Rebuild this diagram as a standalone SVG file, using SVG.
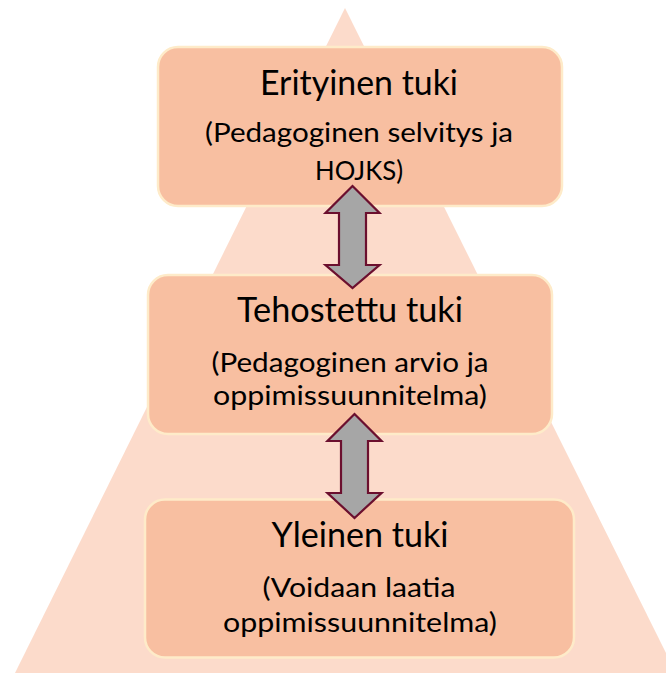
<svg xmlns="http://www.w3.org/2000/svg" width="666" height="673" viewBox="0 0 666 673">
<defs>
<style>
.box{fill:#F8BFA1;stroke:#FEEBC9;stroke-width:2.5}
.t{font-family:Lato,"Open Sans","Liberation Sans",sans-serif;fill:#000;text-anchor:middle}
.h{font-size:35px}
.s{font-size:27.5px}
.arr{fill:#A6A6A6;stroke:#6B0F2E;stroke-width:2.2;stroke-linejoin:miter}
</style>
</defs>
<rect width="666" height="673" fill="#fff"/>
<polygon points="345,8 15,673 676,673" fill="#FCDBCB"/>
<g id="node-erityinen">
<rect class="box" x="158" y="47" width="404" height="159" rx="20"/>
<text class="t h" x="359" y="95" textLength="198" lengthAdjust="spacingAndGlyphs">Erityinen tuki</text>
<text class="t s" x="359" y="142" textLength="308" lengthAdjust="spacingAndGlyphs">(Pedagoginen selvitys ja</text>
<text class="t s" x="359" y="180" textLength="88" lengthAdjust="spacingAndGlyphs">HOJKS)</text>
</g>
<g id="node-tehostettu">
<rect class="box" x="148" y="275" width="404" height="159" rx="20"/>
<text class="t h" x="350" y="322" textLength="226" lengthAdjust="spacingAndGlyphs">Tehostettu tuki</text>
<text class="t s" x="350" y="372" textLength="277" lengthAdjust="spacingAndGlyphs">(Pedagoginen arvio ja</text>
<text class="t s" x="350" y="405" textLength="274" lengthAdjust="spacingAndGlyphs">oppimissuunnitelma)</text>
</g>
<g id="node-yleinen">
<rect class="box" x="145" y="499.5" width="429" height="158" rx="20"/>
<text class="t h" x="360" y="547" textLength="177" lengthAdjust="spacingAndGlyphs">Yleinen tuki</text>
<text class="t s" x="359" y="597" textLength="193" lengthAdjust="spacingAndGlyphs">(Voidaan laatia</text>
<text class="t s" x="360" y="632" textLength="274" lengthAdjust="spacingAndGlyphs">oppimissuunnitelma)</text>
</g>
<g id="connectors">
<polygon class="arr" points="352.5,186 379.5,213 366,213 366,265 379.5,265 352.5,288 325.5,265 339,265 339,213 325.5,213"/>
<polygon class="arr" points="354.5,414 381.5,441 368,441 368,493 381.5,493 354.5,518 327.5,493 341,493 341,441 327.5,441"/>
</g>
</svg>
